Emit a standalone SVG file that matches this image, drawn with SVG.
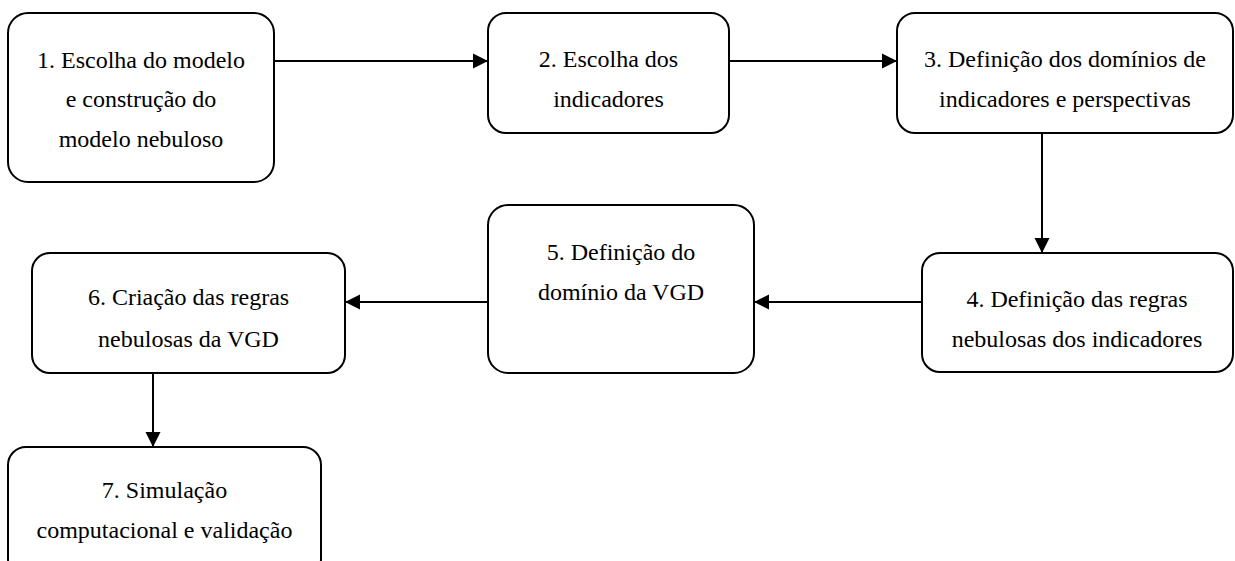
<svg xmlns="http://www.w3.org/2000/svg" width="1235" height="561" viewBox="0 0 1235 561">
<style>
.box{fill:#fff;stroke:#000;stroke-width:2}
.t{font-family:'Liberation Serif','Times New Roman',serif;font-size:24px;fill:#000;text-anchor:middle}
.c{stroke:#000;stroke-width:2;fill:none;marker-end:url(#ah)}
</style>
<defs>
<marker id="ah" markerUnits="userSpaceOnUse" markerWidth="16" markerHeight="16" refX="15" refY="8" orient="auto">
<path d="M0,0.5 L15,8 L0,15.5 Z" fill="#000"/>
</marker>
</defs>
<rect width="1235" height="561" fill="#fff"/>
<g id="connectors">
<line class="c" x1="274" y1="61" x2="488" y2="61"/>
<line class="c" x1="729" y1="61" x2="897" y2="61"/>
<line class="c" x1="1042" y1="133" x2="1042" y2="253"/>
<line class="c" x1="922" y1="302" x2="754" y2="302"/>
<line class="c" x1="488" y1="302" x2="345" y2="302"/>
<line class="c" x1="153" y1="373" x2="153" y2="447"/>
</g>
<g id="n1">
<rect class="box" x="8" y="13" width="266" height="169" rx="20"/>
<text class="t" x="141" y="68">1. Escolha do modelo</text>
<text class="t" x="141" y="107">e construção do</text>
<text class="t" x="141" y="147">modelo nebuloso</text>
</g>
<g id="n2">
<rect class="box" x="488" y="13" width="241" height="120" rx="18"/>
<text class="t" x="608.5" y="67">2. Escolha dos</text>
<text class="t" x="608.5" y="107">indicadores</text>
</g>
<g id="n3">
<rect class="box" x="897" y="13" width="336" height="120" rx="18"/>
<text class="t" x="1065" y="67">3. Definição dos domínios de</text>
<text class="t" x="1065" y="107">indicadores e perspectivas</text>
</g>
<g id="n4">
<rect class="box" x="922" y="253" width="311" height="119" rx="18"/>
<text class="t" x="1077" y="307">4. Definição das regras</text>
<text class="t" x="1077" y="347">nebulosas dos indicadores</text>
</g>
<g id="n5">
<rect class="box" x="488" y="205" width="266" height="168" rx="20"/>
<text class="t" x="621" y="260">5. Definição do</text>
<text class="t" x="621" y="300">domínio da VGD</text>
</g>
<g id="n6">
<rect class="box" x="32" y="253" width="313" height="120" rx="18"/>
<text class="t" x="188.5" y="305">6. Criação das regras</text>
<text class="t" x="188.5" y="347">nebulosas da VGD</text>
</g>
<g id="n7">
<rect class="box" x="8" y="447" width="313" height="130" rx="18"/>
<text class="t" x="164.5" y="498">7. Simulação</text>
<text class="t" x="164.5" y="538">computacional e validação</text>
</g>
</svg>
